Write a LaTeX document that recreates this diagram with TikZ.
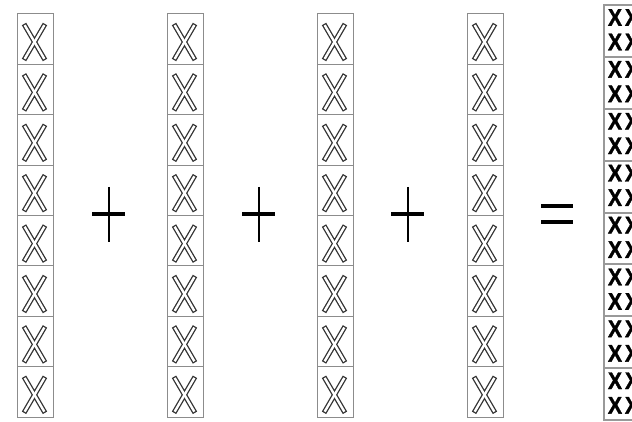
\documentclass[tikz,border=0pt]{standalone}
\usepackage{fontspec}
\newfontfamily\glyphfont[BoldFeatures={FakeBold=1.6}]{Liberation Sans}

\newcommand\narrowx{\scalebox{0.88}[1]{X}}

\tikzset{
  cellbox/.style={draw=black!45, line width=1pt},
  sumbox/.style={draw=black!40, line width=2pt},
  xout/.style={draw=black!80, line width=5pt},
  xin/.style={draw=white, line width=2.4pt, shorten <=1.3pt, shorten >=1.3pt},
  opwide/.style={black, line width=4pt},
  opnarrow/.style={black, line width=2pt},
  boldx/.style={inner sep=0pt, anchor=center,
    font=\glyphfont\bfseries\fontsize{24}{24}\selectfont},
}

\begin{document}
\begin{tikzpicture}[x=1pt, y=-1pt]

  \useasboundingbox (0,0) rectangle (632,422);
  \clip (0,0) rectangle (632,422);

  % the four single columns
  \foreach \cx in {17,167,317,467} {
    \foreach \k in {0,...,7} {
      \pgfmathsetmacro\cy{14+50.4*\k}
      \draw[cellbox] (\cx,\cy) rectangle ++(36,50.4);
      \draw[xout] (\cx+7,\cy+10) -- (\cx+28,\cy+46) (\cx+28,\cy+10) -- (\cx+7,\cy+46);
      \draw[xin] (\cx+7,\cy+10) -- (\cx+28,\cy+46);
      \draw[xin] (\cx+28,\cy+10) -- (\cx+7,\cy+46);
    }
  }

  % plus signs
  \draw[opwide] (92,214) -- (125,214);
  \draw[opnarrow] (108.5,187) -- (108.5,242);
  \draw[opwide] (242,214) -- (275,214);
  \draw[opnarrow] (258.5,187) -- (258.5,242);
  \draw[opwide] (391,214) -- (424,214);
  \draw[opnarrow] (407.5,187) -- (407.5,242);

  % equals sign
  \draw[opwide] (541,206) -- (573,206);
  \draw[opwide] (541,222) -- (573,222);

  % the summed column
  \foreach \k in {0,...,7} {
    \pgfmathsetmacro\cy{5+51.9*\k}
    \draw[sumbox] (604,\cy) rectangle ++(50,51.9);
    \node[boldx] (sum\k a1) at (615,\cy+12.5) {\narrowx};
    \node[boldx] (sum\k a2) at (632,\cy+12.5) {\narrowx};
    \node[boldx] (sum\k b1) at (615,\cy+37) {\narrowx};
    \node[boldx] (sum\k b2) at (632,\cy+37) {\narrowx};
  }

\end{tikzpicture}
\end{document}
